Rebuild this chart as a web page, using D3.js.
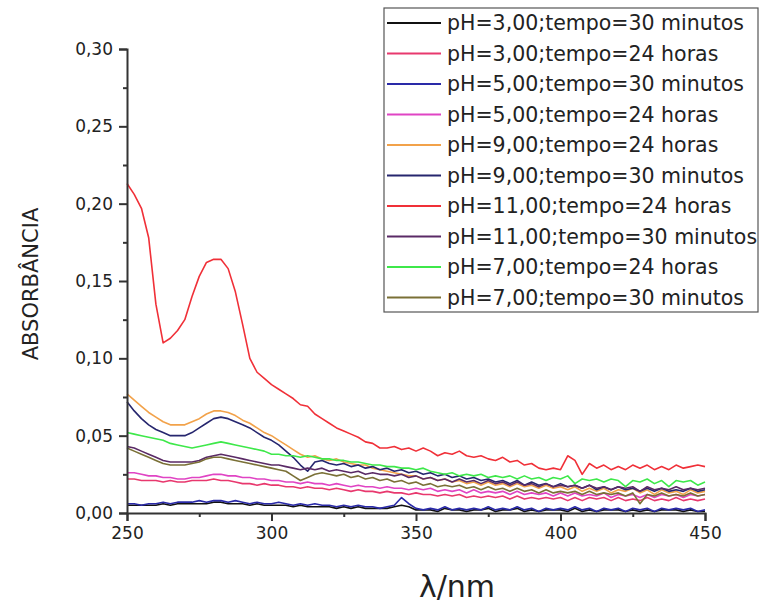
<!DOCTYPE html>
<html>
<head>
<meta charset="utf-8">
<script src="https://cdn.jsdelivr.net/npm/d3@7"></script>
<style>
  body { margin: 0; background: #fff; }
  text { font-family: "DejaVu Sans", sans-serif; fill: #222; }
</style>
</head>
<body>
<div id="canvas"></div>
<script>
"use strict"

/* Data: wavelength grid (nm) and absorbance of each curve */
let wavelengths = [
  250, 252.5, 255, 257.5, 260, 262.5, 265, 267.5, 270, 272.5,
  275, 277.5, 280, 282.5, 285, 287.5, 290, 292.5, 295, 297.5,
  300, 302.5, 305, 307.5, 310, 312.5, 315, 317.5, 320, 322.5,
  325, 327.5, 330, 332.5, 335, 337.5, 340, 342.5, 345, 347.5,
  350, 352.5, 355, 357.5, 360, 362.5, 365, 367.5, 370, 372.5,
  375, 377.5, 380, 382.5, 385, 387.5, 390, 392.5, 395, 397.5,
  400, 402.5, 405, 407.5, 410, 412.5, 415, 417.5, 420, 422.5,
  425, 427.5, 430, 432.5, 435, 437.5, 440, 442.5, 445, 447.5,
  450
];

let pH3_30min = [
  0.005,0.005,0.005,0.005,0.005,0.006,0.005,0.006,0.006,0.006,
  0.006,0.006,0.007,0.007,0.006,0.006,0.006,0.005,0.006,0.005,
  0.005,0.005,0.005,0.004,0.005,0.004,0.004,0.004,0.004,0.003,
  0.004,0.003,0.004,0.003,0.003,0.003,0.003,0.004,0.005,0.004,
  0.002,0.002,0.002,0.001,0.003,0.002,0.002,0.001,0.002,0.002,
  0.003,0.001,0.002,0.002,0.003,0.001,0.002,0.001,0.002,0.002,
  0.002,0.001,0.003,0.001,0.002,0.001,0.002,0.002,0.002,0.001,
  0.002,0.001,0.002,0.001,0.002,0.002,0.002,0.001,0.002,0.001,
  0.001
];
let pH3_24h = [
  0.022,0.022,0.021,0.021,0.021,0.020,0.021,0.020,0.020,0.021,
  0.021,0.021,0.022,0.021,0.021,0.020,0.019,0.019,0.018,0.019,
  0.018,0.018,0.017,0.017,0.016,0.017,0.016,0.016,0.015,0.016,
  0.015,0.014,0.015,0.014,0.014,0.013,0.014,0.013,0.013,0.012,
  0.013,0.012,0.012,0.011,0.012,0.011,0.012,0.010,0.011,0.010,
  0.011,0.010,0.011,0.009,0.011,0.009,0.010,0.009,0.010,0.009,
  0.010,0.008,0.010,0.008,0.010,0.009,0.010,0.008,0.010,0.008,
  0.009,0.008,0.010,0.008,0.009,0.008,0.010,0.008,0.009,0.008,
  0.009
];
let pH5_30min = [
  0.006,0.006,0.005,0.006,0.006,0.007,0.006,0.007,0.007,0.007,
  0.008,0.007,0.008,0.008,0.007,0.008,0.007,0.006,0.007,0.006,
  0.006,0.007,0.006,0.005,0.006,0.005,0.006,0.005,0.005,0.004,
  0.005,0.004,0.005,0.004,0.004,0.003,0.004,0.005,0.010,0.006,
  0.003,0.002,0.003,0.002,0.004,0.002,0.003,0.002,0.003,0.002,
  0.004,0.002,0.003,0.002,0.004,0.002,0.003,0.001,0.003,0.002,
  0.003,0.002,0.004,0.002,0.003,0.001,0.003,0.002,0.003,0.001,
  0.003,0.002,0.003,0.001,0.003,0.002,0.003,0.002,0.003,0.001,
  0.002
];
let pH5_24h = [
  0.026,0.026,0.025,0.024,0.024,0.023,0.023,0.022,0.022,0.023,
  0.023,0.024,0.025,0.025,0.024,0.024,0.023,0.023,0.022,0.022,
  0.021,0.021,0.020,0.020,0.019,0.020,0.019,0.019,0.018,0.019,
  0.018,0.017,0.018,0.017,0.017,0.016,0.017,0.016,0.016,0.015,
  0.016,0.015,0.016,0.014,0.015,0.014,0.015,0.013,0.015,0.013,
  0.014,0.013,0.014,0.012,0.014,0.012,0.013,0.012,0.013,0.011,
  0.013,0.011,0.013,0.011,0.012,0.011,0.013,0.010,0.012,0.011,
  0.012,0.010,0.012,0.010,0.012,0.011,0.012,0.010,0.012,0.011,
  0.012
];
let pH9_24h = [
  0.077,0.073,0.069,0.065,0.062,0.059,0.057,0.057,0.057,0.059,
  0.061,0.064,0.066,0.066,0.065,0.063,0.060,0.058,0.055,0.052,
  0.050,0.047,0.044,0.041,0.038,0.036,0.037,0.035,0.034,0.035,
  0.033,0.032,0.031,0.031,0.029,0.028,0.027,0.026,0.025,0.024,
  0.024,0.022,0.023,0.021,0.022,0.020,0.021,0.019,0.020,0.018,
  0.020,0.018,0.019,0.017,0.019,0.017,0.018,0.016,0.018,0.016,
  0.017,0.015,0.017,0.014,0.016,0.014,0.016,0.013,0.015,0.014,
  0.016,0.013,0.015,0.012,0.015,0.013,0.014,0.012,0.015,0.013,
  0.014
];
let pH9_30min = [
  0.072,0.066,0.061,0.057,0.054,0.052,0.050,0.050,0.050,0.052,
  0.055,0.058,0.061,0.062,0.061,0.059,0.057,0.055,0.052,0.049,
  0.047,0.044,0.040,0.036,0.031,0.027,0.033,0.034,0.032,0.031,
  0.032,0.030,0.031,0.029,0.030,0.028,0.029,0.027,0.028,0.026,
  0.027,0.025,0.026,0.024,0.025,0.023,0.024,0.022,0.023,0.021,
  0.022,0.020,0.021,0.019,0.021,0.018,0.020,0.018,0.019,0.017,
  0.019,0.017,0.018,0.016,0.018,0.015,0.017,0.015,0.017,0.015,
  0.016,0.014,0.016,0.014,0.016,0.014,0.015,0.014,0.016,0.014,
  0.015
];
let pH11_24h = [
  0.213,0.206,0.197,0.178,0.135,0.110,0.113,0.118,0.125,0.140,
  0.153,0.162,0.164,0.164,0.158,0.143,0.122,0.100,0.091,0.087,
  0.083,0.080,0.077,0.074,0.070,0.069,0.064,0.061,0.058,0.055,
  0.053,0.051,0.049,0.046,0.045,0.042,0.042,0.043,0.041,0.042,
  0.040,0.042,0.040,0.037,0.039,0.038,0.040,0.037,0.036,0.037,
  0.035,0.034,0.036,0.033,0.034,0.031,0.032,0.029,0.028,0.029,
  0.028,0.037,0.034,0.025,0.032,0.029,0.031,0.028,0.030,0.028,
  0.031,0.029,0.031,0.028,0.030,0.028,0.031,0.029,0.030,0.031,
  0.030
];
let pH11_30min = [
  0.043,0.042,0.040,0.038,0.036,0.034,0.033,0.033,0.033,0.033,
  0.034,0.036,0.037,0.038,0.037,0.036,0.035,0.034,0.033,0.032,
  0.031,0.031,0.030,0.029,0.028,0.029,0.028,0.029,0.027,0.028,
  0.027,0.026,0.027,0.025,0.026,0.025,0.025,0.024,0.025,0.023,
  0.024,0.022,0.023,0.021,0.022,0.020,0.022,0.020,0.021,0.019,
  0.021,0.019,0.020,0.018,0.020,0.018,0.019,0.017,0.019,0.017,
  0.018,0.017,0.018,0.016,0.018,0.016,0.017,0.015,0.017,0.016,
  0.017,0.014,0.017,0.015,0.016,0.015,0.017,0.015,0.016,0.015,
  0.016
];
let pH7_24h = [
  0.052,0.051,0.050,0.049,0.048,0.047,0.045,0.044,0.043,0.042,
  0.043,0.044,0.045,0.046,0.045,0.044,0.043,0.042,0.041,0.040,
  0.038,0.038,0.037,0.037,0.036,0.037,0.036,0.035,0.035,0.034,
  0.034,0.033,0.033,0.032,0.031,0.031,0.030,0.030,0.029,0.029,
  0.028,0.029,0.027,0.026,0.025,0.026,0.024,0.025,0.024,0.025,
  0.023,0.024,0.023,0.024,0.022,0.024,0.022,0.023,0.021,0.023,
  0.022,0.024,0.019,0.022,0.021,0.022,0.020,0.022,0.021,0.017,
  0.021,0.020,0.022,0.019,0.021,0.017,0.021,0.020,0.021,0.018,
  0.020
];
let pH7_30min = [
  0.042,0.040,0.038,0.036,0.034,0.032,0.031,0.031,0.031,0.032,
  0.033,0.035,0.036,0.036,0.035,0.034,0.033,0.032,0.031,0.030,
  0.029,0.028,0.027,0.024,0.021,0.023,0.025,0.026,0.025,0.024,
  0.025,0.023,0.024,0.022,0.023,0.021,0.022,0.020,0.021,0.019,
  0.020,0.018,0.019,0.017,0.018,0.017,0.018,0.016,0.017,0.015,
  0.017,0.015,0.016,0.014,0.016,0.014,0.015,0.013,0.015,0.013,
  0.014,0.013,0.014,0.012,0.014,0.012,0.013,0.012,0.013,0.011,
  0.013,0.006,0.012,0.011,0.013,0.011,0.012,0.011,0.013,0.011,
  0.012
];

let seriesNames = [
  "pH=3,00;tempo=30 minutos",
  "pH=3,00;tempo=24 horas",
  "pH=5,00;tempo=30 minutos",
  "pH=5,00;tempo=24 horas",
  "pH=9,00;tempo=24 horas",
  "pH=9,00;tempo=30 minutos",
  "pH=11,00;tempo=24 horas",
  "pH=11,00;tempo=30 minutos",
  "pH=7,00;tempo=24 horas",
  "pH=7,00;tempo=30 minutos"
];
let seriesValues = [pH3_30min, pH3_24h, pH5_30min, pH5_24h, pH9_24h,
                    pH9_30min, pH11_24h, pH11_30min, pH7_24h, pH7_30min];
let seriesColors = ["#111111", "#e8386e", "#2a2aa8", "#e044c4", "#f2a24a",
                    "#26266e", "#f03038", "#5a2a66", "#3ee84a", "#7a7036"];

let yTicks = [0, 0.05, 0.10, 0.15, 0.20, 0.25, 0.30];
let yTickLabels = ["0,00", "0,05", "0,10", "0,15", "0,20", "0,25", "0,30"];
let xTicks = [250, 300, 350, 400, 450];

/* Drawing configuration */
let svgWidth = 760;
let svgHeight = 605;
let plotLeft = 127, plotRight = 705, plotTop = 49, plotBottom = 513;

let svg = d3.select("#canvas")
  .append("svg")
  .attr("width", svgWidth)
  .attr("height", svgHeight);

let xScale = d3.scaleLinear()
  .domain([250, 450])
  .range([plotLeft, plotRight]);

let yScale = d3.scaleLinear()
  .domain([0, 0.30])
  .range([plotBottom, plotTop]);

/* curves, in legend order (last drawn on top) */
let line = d3.line()
  .x((d, i) => xScale(wavelengths[i]))
  .y(d => yScale(d));

svg.append("g")
  .selectAll("path")
  .data(seriesValues)
  .join("path")
  .attr("fill", "none")
  .attr("stroke", (d, i) => seriesColors[i])
  .attr("stroke-width", 1.6)
  .attr("stroke-linejoin", "round")
  .attr("d", line);

/* y axis with minor ticks */
let yAxis = svg.append("g")
  .attr("transform", `translate(${plotLeft},0)`)
  .call(d3.axisLeft(yScale)
    .tickValues(yTicks)
    .tickSize(8)
    .tickPadding(6)
    .tickFormat((d, i) => yTickLabels[i]));

svg.append("g")
  .attr("transform", `translate(${plotLeft},0)`)
  .call(d3.axisLeft(yScale)
    .tickValues([0.025, 0.075, 0.125, 0.175, 0.225, 0.275])
    .tickSize(4)
    .tickFormat(""))
  .call(g => g.select(".domain").remove());

/* x axis with minor ticks */
let xAxis = svg.append("g")
  .attr("transform", `translate(0,${plotBottom})`)
  .call(d3.axisBottom(xScale)
    .tickValues(xTicks)
    .tickSize(8)
    .tickPadding(6)
    .tickFormat(d3.format("d")));

svg.append("g")
  .attr("transform", `translate(0,${plotBottom})`)
  .call(d3.axisBottom(xScale)
    .tickValues([275, 325, 375, 425])
    .tickSize(4)
    .tickFormat(""))
  .call(g => g.select(".domain").remove());

svg.selectAll(".domain, .tick line")
  .attr("stroke", "#333")
  .attr("stroke-width", 2);

yAxis.selectAll(".tick text")
  .style("font-family", "DejaVu Sans")
  .style("font-size", "17px")
  .attr("fill", "#333");

xAxis.selectAll(".tick text")
  .style("font-family", "DejaVu Sans")
  .style("font-size", "17px")
  .attr("fill", "#333");

/* axis titles */
svg.append("text")
  .attr("transform", "rotate(-90)")
  .attr("x", -284)
  .attr("y", 38)
  .attr("text-anchor", "middle")
  .style("font-size", "21px")
  .text("ABSORBÂNCIA");

svg.append("text")
  .attr("x", 457)
  .attr("y", 597)
  .attr("text-anchor", "middle")
  .style("font-size", "30px")
  .text("λ/nm");

/* legend */
let legendX = 384, legendY = 8, rowGap = 30.5;

svg.append("rect")
  .attr("x", legendX)
  .attr("y", legendY)
  .attr("width", 374)
  .attr("height", 304)
  .attr("fill", "white")
  .attr("stroke", "#555")
  .attr("stroke-width", 1.2);

let legendRow = svg.append("g")
  .selectAll("g")
  .data(seriesNames)
  .join("g")
  .attr("transform", (d, i) => `translate(${legendX},${legendY + 15 + i * rowGap})`);

legendRow.append("line")
  .attr("x1", 3)
  .attr("x2", 57)
  .attr("stroke", (d, i) => seriesColors[i])
  .attr("stroke-width", 2);

legendRow.append("text")
  .attr("x", 63)
  .attr("y", 7)
  .style("font-size", "20.5px")
  .text(d => d);
</script>
</body>
</html>
